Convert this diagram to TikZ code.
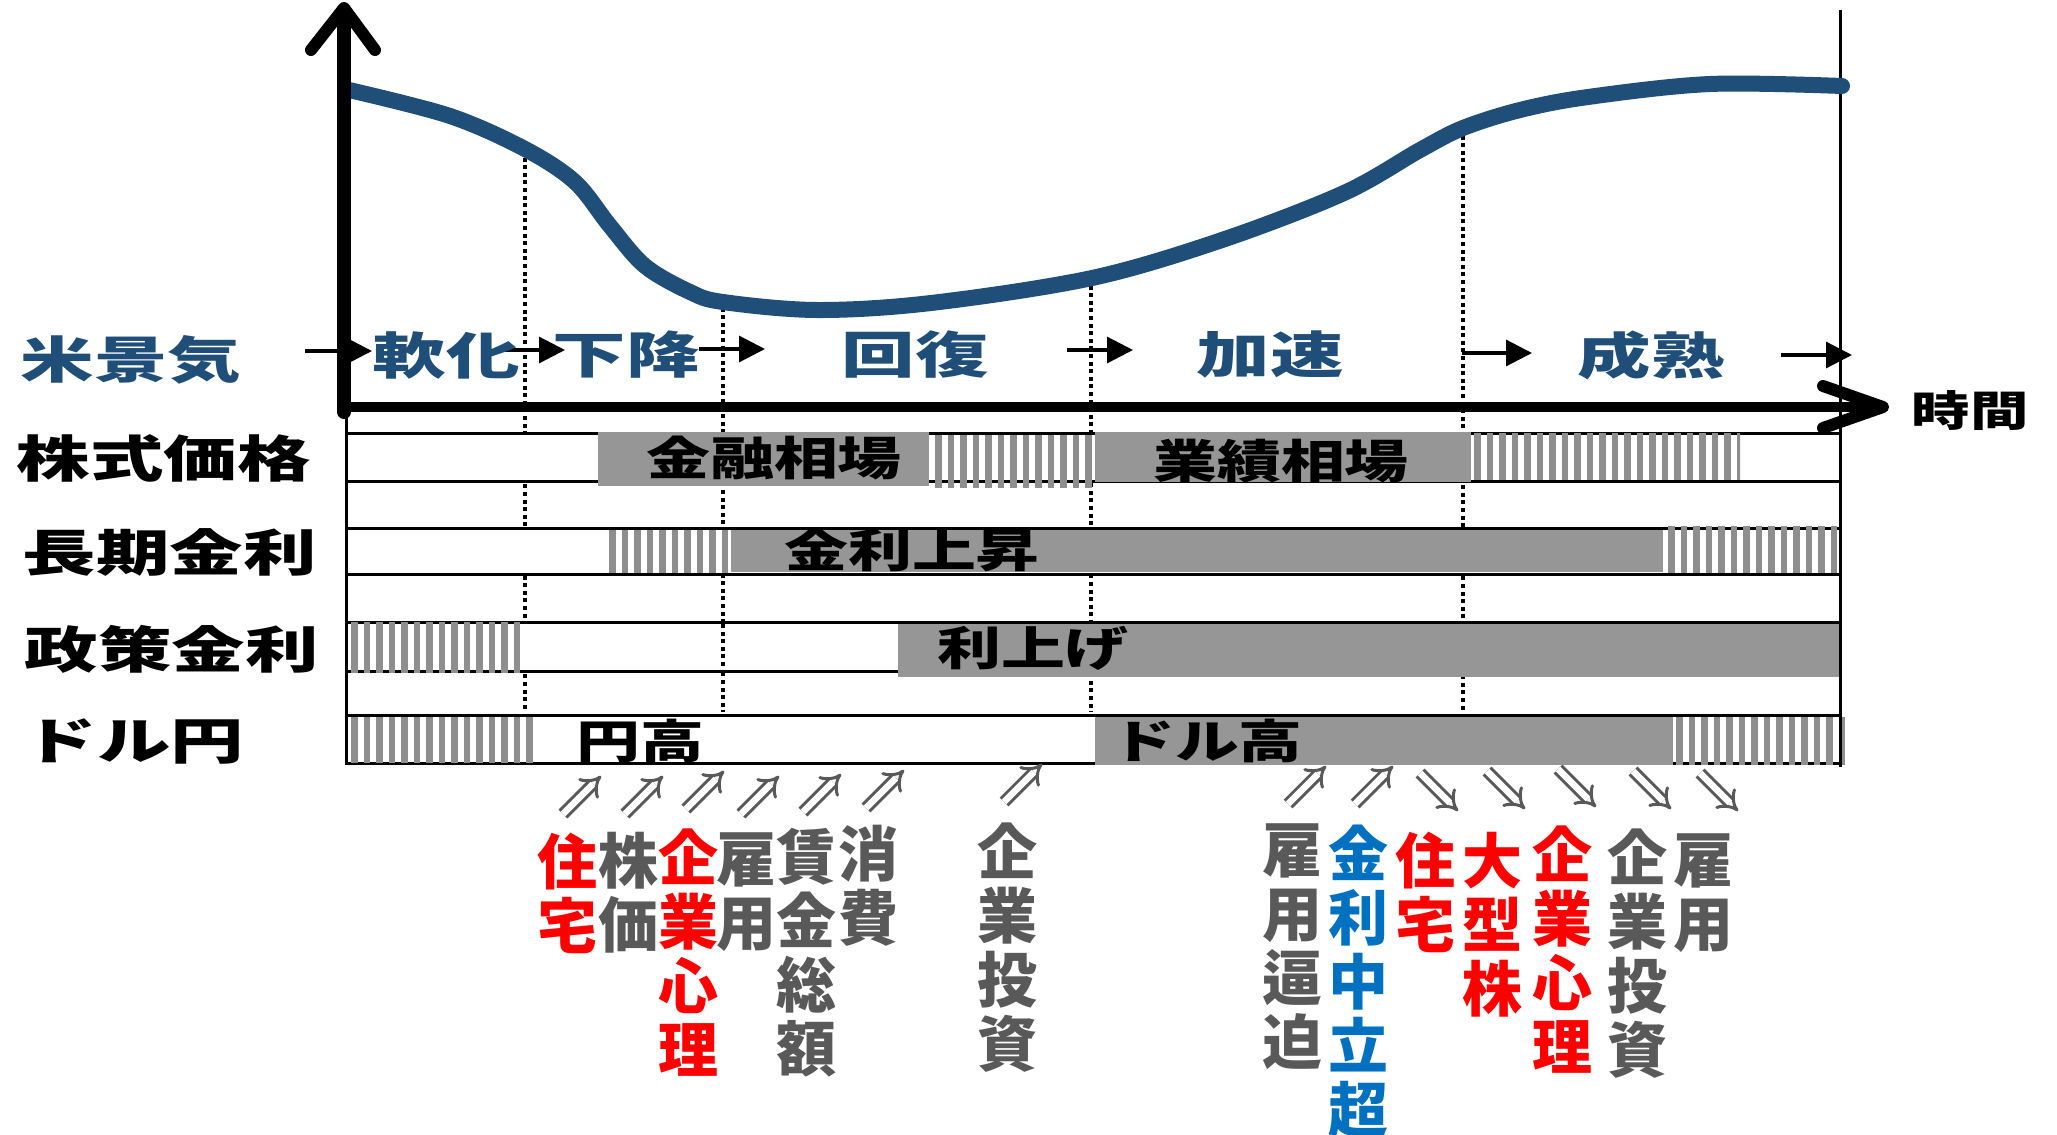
\documentclass[tikz,border=0pt]{standalone}
\usepackage{fontspec}
\usetikzlibrary{arrows.meta,calc}
\newfontfamily\jpL[FakeStretch=1.47]{Noto Sans CJK JP}
\newfontfamily\jpM[FakeStretch=1.39]{Noto Sans CJK JP}
\newfontfamily\jpV[FakeStretch=1.0]{Noto Sans CJK JP}
\definecolor{phase}{HTML}{1F4E79}
\definecolor{tgray}{HTML}{595959}
\definecolor{tblue}{HTML}{0070C0}
\definecolor{tred}{HTML}{FF0000}
\definecolor{barg}{HTML}{969696}
\definecolor{stripeg}{HTML}{8E8E8E}
\tikzset{
  lab/.style={font={\jpL\bfseries\fontsize{25}{30}\selectfont}, inner sep=0pt},
  phasetxt/.style={lab, text=phase},
  bartxt/.style={font={\jpM\bfseries\fontsize{23}{28}\selectfont}, inner sep=0pt},
  axlabel/.style={font={\jpM\bfseries\fontsize{21}{26}\selectfont}, inner sep=0pt},
  vcol/.style={font={\jpV\bfseries\fontsize{30}{32}\selectfont}, align=center, inner sep=0pt, anchor=north},
  vgray/.style={vcol, text=tgray},
  vred/.style={vcol, text=tred},
  vblue/.style={vcol, text=tblue},
  dotline/.style={line width=2pt, dash pattern=on 2pt off 1.8pt},
  rowframe/.style={draw=black, fill=white, line width=1.5pt},
  rowline/.style={line width=1.5pt},
  barbox/.style={fill=barg},
  stripecol/.style={fill=stripeg},
  parr/.style={line width=1.6pt, -{Triangle[length=13pt,width=13pt]}},
  darr/.style={draw=tgray, line width=1.5pt, double=white, double distance=3.2pt, -{Implies}},
  curveline/.style={draw=phase, line width=8pt, line cap=round},
  thinv/.style={line width=1.5pt}
}
\newcommand\stripebox[4]{%
  \begin{scope}
    \clip (#1,#2) rectangle (#3,#4);
    \foreach \k in {0,...,23}{\fill[stripecol] ({#1+3+12.5*\k},#2) rectangle ++(6.5,{#4-#2});}
  \end{scope}}
\begin{document}
\begin{tikzpicture}[x=0.5pt,y=-0.5pt]
\useasboundingbox (0,0) rectangle (2057,1135);
\clip (0,0) rectangle (2057,1135);
\fill[white] (0,0) rectangle (2057,1135);

% dotted phase boundaries
\coordinate (d1t) at (525,150); \coordinate (d1b) at (525,712);
\coordinate (d2t) at (723,300); \coordinate (d2b) at (723,712);
\coordinate (d3t) at (1091,278); \coordinate (d3b) at (1091,712);
\coordinate (d4t) at (1463,128); \coordinate (d4b) at (1463,712);
\draw[dotline] (d1t) -- (d1b);
\draw[dotline] (d2t) -- (d2b);
\draw[dotline] (d3t) -- (d3b);
\draw[dotline] (d4t) -- (d4b);

% row frames
\draw[rowframe] (346,433) rectangle (1840,481);
\draw[rowframe] (346,528) rectangle (1840,574);
\draw[rowframe] (346,622) rectangle (1840,671);
\draw[rowframe] (346,715) rectangle (1840,763);
\coordinate (d2r3t) at (723,624); \coordinate (d2r3b) at (723,669);
\draw[dotline] (d2r3t) -- (d2r3b);

% row 1: stock prices
\fill[barbox] (598,432) rectangle (929,486);
\stripebox{932}{433}{1094}{488}
\fill[barbox] (1095,432) rectangle (1471,482);
\stripebox{1471}{433}{1740}{480}
\draw[rowline] (932,433) -- (1094,433);
% row 2: long-term rates
\stripebox{606}{528}{729}{575}
\fill[barbox] (731,527) rectangle (1663,572);
\stripebox{1665}{526}{1839}{574}
\draw[rowline] (346,528) -- (1663,528);
\draw[rowline] (346,574) -- (1840,574);
% row 3: policy rate
\stripebox{348}{622}{525}{673}
\fill[barbox] (898,622) rectangle (1841,677);
\draw[rowline] (525,622) -- (1840,622);
% row 4: dollar-yen
\stripebox{348}{715}{536}{763}
\fill[barbox] (1095,715) rectangle (1673,765);
\stripebox{1673}{717}{1846}{765}
\draw[rowline] (346,715) -- (1840,715);

% vertical frame lines
\coordinate (lvt) at (346,409); \coordinate (lvb) at (346,765);
\coordinate (rvt) at (1840,10); \coordinate (rvb) at (1840,767);
\draw[thinv] (lvt) -- (lvb);
\draw[thinv] (rvt) -- (rvb);

% economy curve
\draw[curveline] plot[smooth, tension=0.55] coordinates {
 (349,90) (450,116) (525,149) (575,182) (610,226) (645,266) (690,292) (723,302)
 (817,310) (931,303) (1092,278) (1222,240) (1344,193) (1420,150) (1463,128)
 (1520,110) (1588,97) (1710,84) (1842,86)};

% axes
\coordinate (yb) at (344,412); \coordinate (yt) at (344,10);
\coordinate (xl) at (340,407); \coordinate (xr) at (1878,407);
\draw[line width=7pt, line cap=round] (yb) -- (yt);
\draw[line width=6pt, line cap=round, line join=round] (311,50) -- (344,8) -- (375,50);
\draw[line width=5pt] (xl) -- (xr);
\draw[line width=6pt, line cap=round, line join=round] (1823,386) -- (1883,407) -- (1823,428);
\node[axlabel] (jikan) at (1970,411) {時間};

% phase arrows
\coordinate (pa1s) at (305,351); \coordinate (pa1e) at (372,351);
\coordinate (pa2s) at (497,350); \coordinate (pa2e) at (565,350);
\coordinate (pa3s) at (699,349); \coordinate (pa3e) at (765,349);
\coordinate (pa4s) at (1067,350); \coordinate (pa4e) at (1133,350);
\coordinate (pa5s) at (1462,353); \coordinate (pa5e) at (1532,353);
\coordinate (pa6s) at (1781,355); \coordinate (pa6e) at (1852,355);
\draw[parr] (pa1s) -- (pa1e);
\draw[parr] (pa2s) -- (pa2e);
\draw[parr] (pa3s) -- (pa3e);
\draw[parr] (pa4s) -- (pa4e);
\draw[parr] (pa5s) -- (pa5e);
\draw[parr] (pa6s) -- (pa6e);

% phase labels
\node[phasetxt] (beikeiki) at (131,360) {米景気};
\node[phasetxt] (nanka) at (446,355) {軟化};
\node[phasetxt] (kako) at (626,355) {下降};
\node[phasetxt] (kaifuku) at (915,355) {回復};
\node[phasetxt] (kasoku) at (1270,355) {加速};
\node[phasetxt] (seijuku) at (1651,355) {成熟};

% row labels
\node[lab] (kabushiki) at (164,458) {株式価格};
\node[lab] (choki) at (170,552) {長期金利};
\node[lab] (seisaku) at (172,649) {政策金利};
\node[lab] (dollaryen) at (134,741) {ドル円};

% bar texts
\node[bartxt] (kinyu) at (774,458) {金融相場};
\node[bartxt] (gyoseki) at (1281,461) {業績相場};
\node[bartxt] (kinrijosho) at (912,550) {金利上昇};
\node[bartxt] (riage) at (1033,648) {利上げ};
\node[bartxt] (endaka) at (640,741) {円高};
\node[bartxt] (dorudaka) at (1207,741) {ドル高};

% up arrows
\foreach \n/\cx/\cy in {u1/582/795, u2/644/795, u3/705/790, u4/760/795, u5/822/793, u6/885/789, u7/1023/783, u8/1307/785, u9/1374/785}{
  \coordinate (\n) at (\cx,\cy);
  \draw[darr] ($(\n)+(-19,19)$) -- ($(\n)+(19,-19)$);
}
% down arrows
\foreach \n/\cx/\cy in {w1/1439/792, w2/1506/790, w3/1577/788, w4/1652/790, w5/1719/792}{
  \coordinate (\n) at (\cx,\cy);
  \draw[darr] ($(\n)+(-19,-19)$) -- ($(\n)+(19,19)$);
}

% vertical texts, left group
\node[vred]  (c1) at (567,833) {住\\宅};
\node[vgray] (c2) at (628,832) {株\\価};
\node[vred]  (c3) at (688,828) {企\\業\\心\\理};
\node[vgray] (c4) at (746,832) {雇\\用};
\node[vgray] (c5) at (806,828) {賃\\金\\総\\額};
\node[vgray] (c6) at (868,825) {消\\費};
\node[vgray] (c7) at (1007,822) {企\\業\\投\\資};
% vertical texts, right group
\node[vgray] (c8) at (1292,823) {雇\\用\\逼\\迫};
\node[vblue] (c9) at (1358,825) {金\\利\\中\\立\\超};
\node[vred]  (c10) at (1425,832) {住\\宅};
\node[vred]  (c11) at (1492,832) {大\\型\\株};
\node[vred]  (c12) at (1562,825) {企\\業\\心\\理};
\node[vgray] (c13) at (1637,828) {企\\業\\投\\資};
\node[vgray] (c14) at (1703,833) {雇\\用};
\end{tikzpicture}
\end{document}
